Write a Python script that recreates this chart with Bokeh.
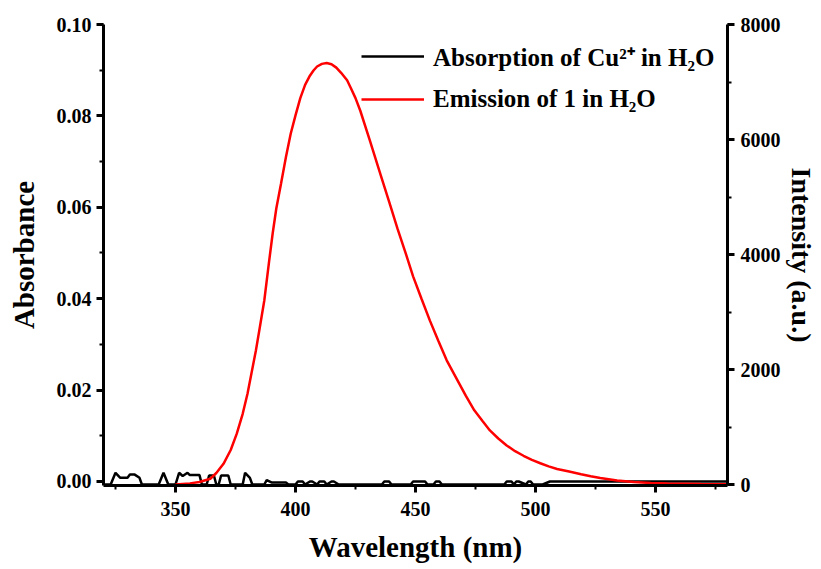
from bokeh.plotting import figure
from bokeh.models import (Range1d, LinearAxis, SingleIntervalTicker, Legend, LegendItem,
                          NumeralTickFormatter)
from bokeh.embed import file_html
from bokeh.resources import INLINE

# Emission of 1 in H2O (right axis, a.u.)
em_wl = [350, 356, 360, 364.5, 367, 370, 373, 375.5, 378, 380, 383.5, 385, 387, 389, 390.5,
         392, 394, 396, 398, 400, 402, 404, 406, 407.5, 409, 411, 413, 415, 417, 419, 421.5,
         423, 425, 427, 431, 435.5, 439, 442.5, 446, 449, 452.5, 456, 459.5, 463, 467.5,
         471, 474.5, 478, 481, 484.5, 488, 491.5, 495, 498.5, 502, 505.5, 509, 514, 519,
         523, 527, 534, 541, 548, 555, 569, 580]
em_int = [0, 20, 45, 100, 200, 360, 600, 880, 1230, 1580, 2330, 2700, 3200, 3880, 4370,
          4800, 5240, 5690, 6100, 6420, 6720, 6950, 7110, 7200, 7270, 7315, 7330, 7310, 7250,
          7160, 7030, 6900, 6720, 6500, 5980, 5380, 4920, 4450, 4010, 3620, 3230, 2850, 2500,
          2160, 1810, 1540, 1290, 1100, 940, 800, 680, 580, 500, 430, 370, 315, 270, 225, 180,
          145, 115, 70, 42, 27, 18, 9, 5]

# Absorption of Cu2+ in H2O (left axis)
ab_wl = [320, 323, 325, 327, 330, 331, 333, 335, 336, 343, 345, 347, 350, 351.5, 353, 355,
         356, 360, 361, 363, 364, 366, 367, 368, 369, 372, 373, 378, 379, 381, 382,
         387, 388, 390, 391, 396, 397, 400, 401, 403, 404, 406, 407, 409, 410, 412, 413,
         415, 416, 418, 419, 436, 437, 439, 440, 448, 449, 454, 455, 457.5, 458.5, 460, 461,
         487, 488, 490, 491, 492, 493, 496, 497, 498, 499, 503, 506, 580]
ab_val = [-0.00066, -0.00066, 0.0019, 0.0008, 0.0008, 0.0015, 0.0015, 0.0008, -0.00066,
          -0.00066, 0.0019, -0.00066, -0.00066, 0.0019, 0.0012, 0.0019, 0.0014, 0.0014,
          -0.00066, -0.00066, 0.0013, 0.0013, -0.00066, -0.00066, 0.0013, 0.0013, -0.00066,
          -0.00066, 0.0019, 0.0008, -0.00066, -0.00066, 0.0003, -0.0002, -0.0002, -0.0002,
          -0.00066, -0.00066, 0.0, 0.0, -0.00066, 0.0, 0.0, -0.00066, 0.0, 0.0, -0.00066,
          0.0, 0.0, -0.00066, -0.00066, -0.00066, 0.0, 0.0, -0.00066, -0.00066, 0.0, 0.0,
          -0.00066, -0.00066, 0.0, 0.0, -0.00066, -0.00066, 0.0, 0.0, -0.00066, 0.0, 0.0,
          -0.00066, 0.0, 0.0, -0.00066, -0.00066, 0.0, 0.0]

legend_labels = ["Absorption of Cu\u00b2\u207a in H\u2082O", "Emission of 1 in H\u2082O"]

FONT = "Liberation Serif"

p = figure(width=821, height=569, output_backend="svg", toolbar_location=None,
           x_range=Range1d(320, 580), y_range=Range1d(-0.00088, 0.1),
           min_border_left=103, min_border_right=94, min_border_top=24, min_border_bottom=84,
           x_axis_label="Wavelength (nm)", y_axis_label="Absorbance")
p.outline_line_color = None
p.xgrid.visible = False
p.ygrid.visible = False
p.extra_y_ranges = {"int": Range1d(-17, 8000)}

r_ab = p.line(ab_wl, ab_val, line_color="black", line_width=2.5)
r_em = p.line(em_wl, em_int, line_color="#ff0000", line_width=2.5, y_range_name="int")

right = LinearAxis(y_range_name="int", axis_label="Intensity (a.u.)")
p.add_layout(right, "right")

p.xaxis.ticker = SingleIntervalTicker(interval=50, num_minor_ticks=2)
p.yaxis[0].ticker = SingleIntervalTicker(interval=0.02, num_minor_ticks=2)
p.yaxis[0].formatter = NumeralTickFormatter(format="0.00")
right.ticker = SingleIntervalTicker(interval=2000, num_minor_ticks=2)

for ax in [p.xaxis[0], p.yaxis[0], right]:
    ax.axis_line_width = 3
    ax.axis_line_color = "black"
    ax.major_tick_line_width = 3
    ax.minor_tick_line_width = 2
    ax.major_tick_out = 7
    ax.major_tick_in = 0
    ax.minor_tick_out = 4
    ax.minor_tick_in = 0
    ax.major_label_text_font = FONT
    ax.major_label_text_font_style = "bold"
    ax.major_label_text_font_size = "20px"
    ax.major_label_text_color = "black"
    ax.axis_label_text_font = FONT
    ax.axis_label_text_font_style = "bold"
    ax.axis_label_text_font_size = "29px"
    ax.axis_label_text_color = "black"

p.xaxis[0].major_label_standoff = 9
p.xaxis[0].axis_label_standoff = 12
p.yaxis[0].major_label_standoff = 5
p.yaxis[0].axis_label_standoff = 14
right.major_label_standoff = 6
right.axis_label_standoff = 2
right.axis_label_text_font_size = "28px"

legend = Legend(items=[LegendItem(label=legend_labels[0], renderers=[r_ab]),
                       LegendItem(label=legend_labels[1], renderers=[r_em])],
                location=(258, 372))
legend.border_line_color = None
legend.background_fill_alpha = 0
legend.label_text_font = FONT
legend.label_text_font_style = "bold"
legend.label_text_font_size = "25px"
legend.label_text_color = "black"
legend.glyph_width = 63
legend.label_standoff = 9
legend.spacing = 12
legend.padding = 0
legend.margin = 0
p.add_layout(legend)

open("out.html", "w").write(file_html(p, INLINE))
